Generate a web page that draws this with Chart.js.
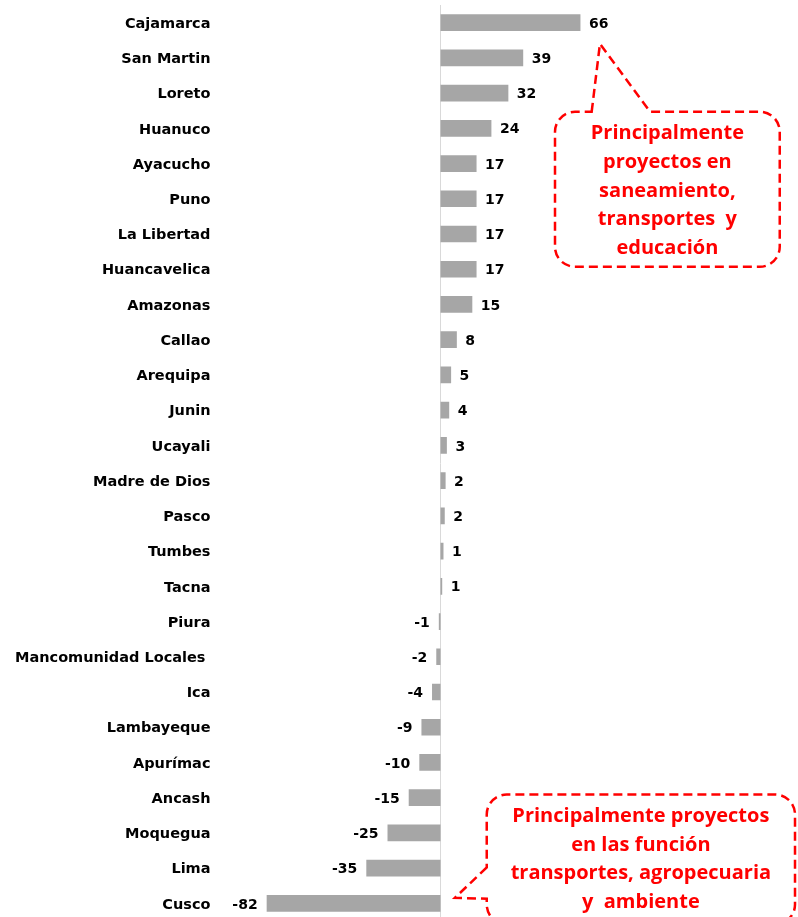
<!DOCTYPE html>
<html lang="es">
<head>
<meta charset="UTF-8">
<title>Variación por región</title>
<script src="https://cdn.jsdelivr.net/npm/chart.js"></script>
<style>
  html, body { margin: 0; padding: 0; background: #fff; overflow: hidden; }
  #wrap { width: 798px; height: 917px; overflow: hidden; }
</style>
</head>
<body>
<div id="wrap"><canvas id="chart" width="798" height="922"></canvas></div>
<script>
// regiones, de arriba hacia abajo
const regions = [
  'Cajamarca', 'San Martin', 'Loreto', 'Huanuco', 'Ayacucho', 'Puno', 'La Libertad',
  'Huancavelica', 'Amazonas', 'Callao', 'Arequipa', 'Junin', 'Ucayali', 'Madre de Dios',
  'Pasco', 'Tumbes', 'Tacna', 'Piura', 'Mancomunidad Locales ', 'Ica', 'Lambayeque',
  'Apurímac', 'Ancash', 'Moquegua', 'Lima', 'Cusco'
];
const values = [
  66, 39, 32, 24, 17, 17, 17,
  17, 15, 7.7, 5, 4.1, 3, 2.4,
  2, 1.4, 0.8, -0.8, -2, -4, -9,
  -10, -15, -25, -35, -82
];

const noteTop = ['Principalmente', 'proyectos en', 'saneamiento,', 'transportes  y', 'educación'];
const noteBottom = ['Principalmente proyectos', 'en las función', 'transportes, agropecuaria', 'y  ambiente'];

// llamadas: x en unidades del eje de valores, y en posicion de categoria
const callouts = [
  { lines: noteTop, x0: 54, x1: 160, y0: 2.53, y1: 6.93,
    tail: { side: 'top', a: 71.3, b: 98.8, tx: 75.2, ty: 0.6 } },
  { lines: noteBottom, x0: 21.8, x1: 167.2, y0: 21.91, y1: 25.6,
    tail: { side: 'left', a: 23.98, b: 24.87, tx: 6.8, ty: 24.84 } }
];

const RED = '#FF0000';

function calloutPath(ctx, L, T, R, B, r, t) {
  ctx.beginPath();
  if (t.side === 'top') {
    ctx.moveTo(t.a, T);
    ctx.lineTo(t.tx, t.ty);
    ctx.lineTo(t.b, T);
    ctx.arcTo(R, T, R, B, r);
    ctx.arcTo(R, B, L, B, r);
    ctx.arcTo(L, B, L, T, r);
    ctx.arcTo(L, T, t.a, T, r);
  } else {
    ctx.moveTo(L, t.a);
    ctx.lineTo(t.tx, t.ty);
    ctx.lineTo(L, t.b);
    ctx.arcTo(L, B, R, B, r);
    ctx.arcTo(R, B, R, T, r);
    ctx.arcTo(R, T, L, T, r);
    ctx.arcTo(L, T, L, t.a, r);
  }
  ctx.closePath();
  ctx.stroke();
}

const zeroLine = {
  id: 'zeroLine',
  beforeDatasetsDraw(chart) {
    const ctx = chart.ctx;
    const x = Math.round(chart.scales.x.getPixelForValue(0)) - 0.5;
    ctx.save();
    ctx.strokeStyle = '#D9D9D9';
    ctx.lineWidth = 1;
    ctx.beginPath();
    ctx.moveTo(x, chart.chartArea.top);
    ctx.lineTo(x, chart.height);
    ctx.stroke();
    ctx.restore();
  }
};

const valueLabels = {
  id: 'valueLabels',
  afterDatasetsDraw(chart) {
    const ctx = chart.ctx;
    const meta = chart.getDatasetMeta(0);
    ctx.save();
    ctx.font = 'bold 14px "DejaVu Sans"';
    ctx.fillStyle = '#000';
    ctx.textBaseline = 'middle';
    meta.data.forEach((bar, i) => {
      const v = values[i];
      ctx.textAlign = v >= 0 ? 'left' : 'right';
      ctx.fillText(String(Math.round(v)), bar.x + (v >= 0 ? 8.5 : -9), bar.y + 1.5);
    });
    ctx.restore();
  }
};

const calloutPlugin = {
  id: 'callouts',
  afterDraw(chart) {
    const ctx = chart.ctx;
    const xs = chart.scales.x, ys = chart.scales.y;
    ctx.save();
    callouts.forEach(c => {
      const L = xs.getPixelForValue(c.x0), R = xs.getPixelForValue(c.x1);
      const T = ys.getPixelForValue(c.y0), B = ys.getPixelForValue(c.y1);
      const t = c.tail;
      const tp = {
        side: t.side,
        tx: xs.getPixelForValue(t.tx),
        ty: ys.getPixelForValue(t.ty),
        a: t.side === 'top' ? xs.getPixelForValue(t.a) : ys.getPixelForValue(t.a),
        b: t.side === 'top' ? xs.getPixelForValue(t.b) : ys.getPixelForValue(t.b)
      };
      ctx.strokeStyle = RED;
      ctx.lineWidth = 2.5;
      ctx.setLineDash([9, 5]);
      calloutPath(ctx, L, T, R, B, 20, tp);
      ctx.setLineDash([]);

      ctx.fillStyle = RED;
      ctx.font = 'bold 20px "Open Sans"';
      ctx.textAlign = 'center';
      ctx.textBaseline = 'middle';
      const cx = (L + R) / 2;
      c.lines.forEach((line, k) => {
        ctx.fillText(line, cx, T + 21.6 + k * 28.8);
      });
    });
    ctx.restore();
  }
};

Chart.defaults.font.family = '"DejaVu Sans"';

new Chart(document.getElementById('chart'), {
  type: 'bar',
  data: {
    labels: regions,
    datasets: [{
      data: values,
      backgroundColor: '#A6A6A6',
      borderWidth: 0,
      categoryPercentage: 1,
      barPercentage: 0.474
    }]
  },
  options: {
    indexAxis: 'y',
    responsive: false,
    animation: false,
    layout: { padding: { top: 5, bottom: 1, left: 0, right: 1.3 } },
    plugins: {
      legend: { display: false },
      tooltip: { enabled: false }
    },
    scales: {
      x: {
        display: false,
        min: -100,
        max: 168
      },
      y: {
        grid: { display: false, drawTicks: false },
        border: { display: false },
        ticks: {
          autoSkip: false,
          padding: 18,
          labelOffset: 1.5,
          color: '#000',
          font: { size: 14.5, weight: 'bold' }
        },
        afterFit(scale) {
          scale.width = 228.5;
          scale.paddingTop = 0;
          scale.paddingBottom = 0;
        }
      }
    }
  },
  plugins: [zeroLine, valueLabels, calloutPlugin]
});
</script>
</body>
</html>
